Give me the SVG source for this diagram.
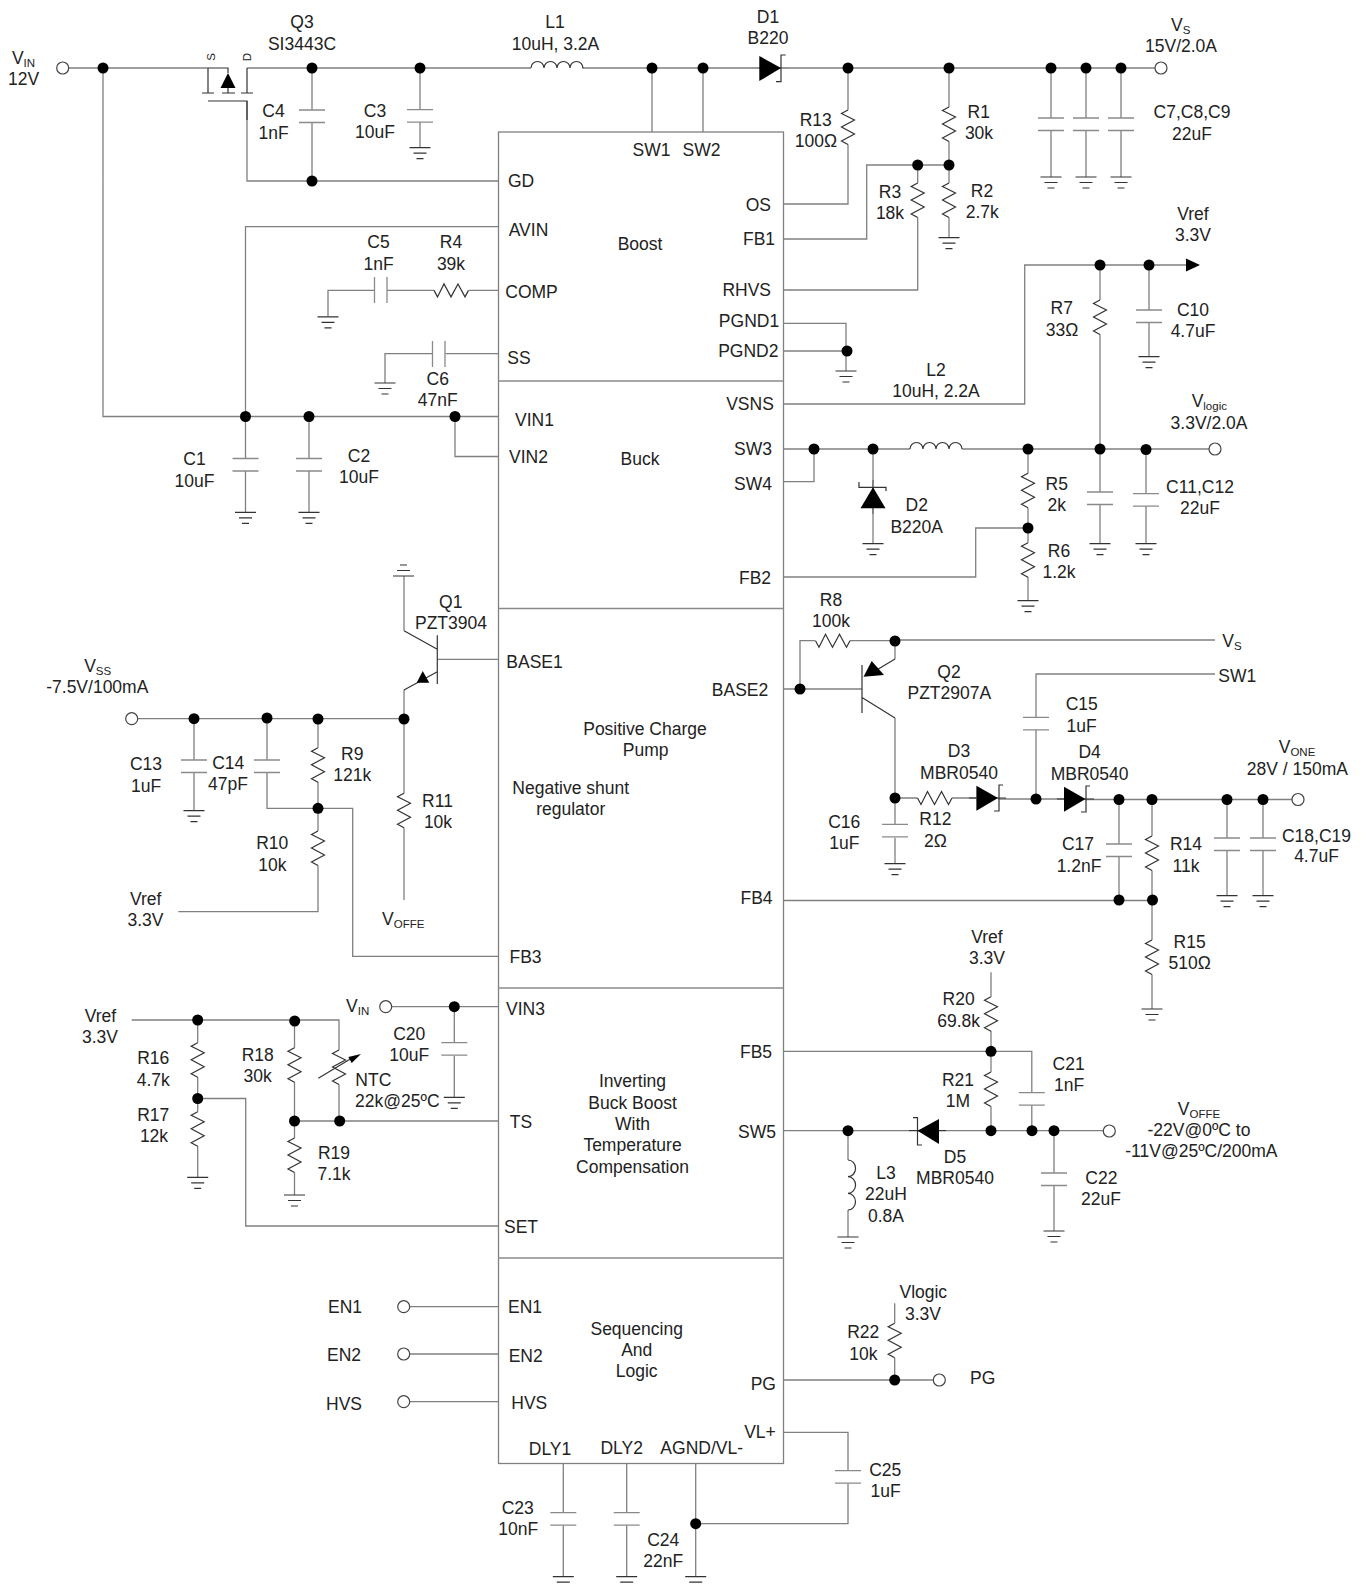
<svg xmlns="http://www.w3.org/2000/svg" width="1366" height="1587" viewBox="0 0 1366 1587">
<style>
text{font-family:"Liberation Sans",Arial,sans-serif;font-size:17.5px;text-anchor:middle;fill:#222}
.s{font-size:11.5px}
.l{text-anchor:start}
.w{fill:none;stroke:#808080;stroke-width:1.3}
.p{fill:none;stroke:#8a8a8a;stroke-width:1.3}
.k{fill:none;stroke:#333;stroke-width:1.2}
.f{fill:#000;stroke:none}
.d{fill:#000}
.o{fill:#fff;stroke:#444;stroke-width:1.2}
.b{fill:#fff;stroke:#808080;stroke-width:1.3}
</style>
<defs>
<path id="rv" class="k" d="M0 0L-6.5 3.5L6.5 10L-6.5 17L6.5 24L-6.5 31L0 34.5"/>
<path id="cv" class="p" d="M-13 0H13M-13 12.5H13"/>
<path id="ch" class="p" d="M0 -13V13M12.5 -13V13"/>
<path id="gnd" class="k" d="M-10.5 0H10.5M-6.5 5.5H6.5M-3.5 11H3.5"/>
<path id="lh" class="k" d="M0 0a6.5 6.5 0 0 1 13 0a6.5 6.5 0 0 1 13 0a6.5 6.5 0 0 1 13 0a6.5 6.5 0 0 1 13 0"/>
</defs>
<rect id="IC" class="b" x="498.5" y="132" width="285" height="1331.5"/>
<g id="ic-dividers"><path class="p" d="M498.5 381H783.5M498.5 608.5H783.5M498.5 988H783.5M498.5 1258H783.5"/></g>
<g id="ic-labels">
<text x="521" y="187">GD</text><text x="528.5" y="236">AVIN</text><text x="531.5" y="297.5">COMP</text><text x="519" y="364">SS</text>
<text x="534.5" y="426">VIN1</text><text x="528.5" y="462.5">VIN2</text>
<text x="651.5" y="156">SW1</text><text x="701.5" y="156">SW2</text>
<text x="640" y="250">Boost</text><text x="640" y="464.5">Buck</text>
<text x="758.3" y="210.7">OS</text><text x="759" y="245">FB1</text><text x="746.7" y="295.7">RHVS</text><text x="749" y="327.3">PGND1</text><text x="748.3" y="357.3">PGND2</text>
<text x="750" y="410">VSNS</text><text x="753" y="454.5">SW3</text><text x="753" y="490">SW4</text><text x="755" y="584">FB2</text>
<text x="534.5" y="667.5">BASE1</text><text x="740" y="696">BASE2</text>
<text x="645" y="735">Positive Charge</text><text x="645.7" y="756">Pump</text>
<text x="570.7" y="793.5">Negative shunt</text><text x="570.7" y="815">regulator</text>
<text x="525.5" y="962.5">FB3</text><text x="756.5" y="904">FB4</text>
<text x="525.5" y="1015">VIN3</text><text x="521" y="1128">TS</text><text x="521" y="1232.5">SET</text><text x="756" y="1057.5">FB5</text><text x="757" y="1137.5">SW5</text>
<text x="632.5" y="1087">Inverting</text><text x="632.5" y="1108.5">Buck Boost</text><text x="632.5" y="1130">With</text><text x="632.5" y="1151">Temperature</text><text x="632.5" y="1173">Compensation</text>
<text x="636.7" y="1334.5">Sequencing</text><text x="636.7" y="1356">And</text><text x="636.7" y="1377">Logic</text>
<text x="525" y="1313">EN1</text><text x="525.7" y="1362.3">EN2</text><text x="529.3" y="1409">HVS</text>
<text x="763.3" y="1390">PG</text><text x="760" y="1437.7">VL+</text><text x="550" y="1454.8">DLY1</text><text x="621.7" y="1453.8">DLY2</text><text x="701.7" y="1453.8">AGND/VL-</text>
</g>
<g id="connectors">
<path class="w" d="M69 68H208M247 68H531M582 68H752M789 68H1155M247 101V181H498.5M312 68V110M312 122.6V181M420 68V109.6M420 122V147.6M103 68V416.5H498.5M498.5 226.6H245.5V458.5M245.5 471V512.4M309 416.5V458.5M309 471V512.4M455 416.5V456.5H498.5M328 316.8V290.4H374.5M387 290.4H434M469 290.4H498.5M385 383V353.6H432.5M445.5 353.6H498.5M652 68V132M703 68V132
M848 68V110M848 144.5V204H783.5M949 68V107M949 141.5V183M949 217.5V237.7M949 165H866.7V239H783.5M917.7 165V183M917.7 217.5V290H783.5M783.5 323.3H846V371M783.5 351H846
M1051 68V118M1051 131V177M1086 68V118M1086 131V177M1121 68V118M1121 131V177
M783.5 404H1024.7V265H1186M1100 265V300M1100 334.5V449M1149 265V310M1149 322.7V356.7
M783.5 449H910M962 449H1209M783.5 481.7H814V449M873 449V480M873 514V543.7M1028 449V473.3M1028 508V542.7M1028 577V600.7M1028 528H975.7V577H783.5M1100 449V492M1100 504.3V543.7M1146 449V493.7M1146 506V543.7
M783.5 689H862M800 689V640.7H815.3M850 640.7H895M895 640H1215M895 640.7V659M895 718V824.3M895 837.7V863.7M895 798H917.5M952 798H976M998 799H1064M1085 799.5H1292M1215 674H1036V717.3M1036 729.7V799
M1119 799.5V844M1119 856.3V900M1152 799.5V836M1152 870.5V940M1152 974.5V1009M783.5 900.5H1152M1227 799.5V838M1227 850.3V895.7M1263 799.5V838M1263 850.3V895.7
M991 972.3V996.7M991 1031V1072M991 1106.5V1130.7M783.5 1051.3H1031.8V1092.7M1031.8 1105.3V1130.7M783.5 1130.7H909M946 1130.7H1103M848 1130.7V1160M848 1210V1237M1054 1130.7V1173M1054 1185.3V1231
M437.3 659.3H498.5M404 576V630.7M404 690V718.7M138 718.7H404M194 718.7V760M194 772.3V810.7M267 718.7V760M267 772.3V808.3H318M318 718.7V747.7M318 782V831M318 865.5V911.7H178.3M318 808.3H352.7V956.3H498.5M404 718.7V793.3M404 827.7V900
M131.7 1020H339V1050M339 1084.5V1121M197.7 1020V1042.7M197.7 1077V1111.7M197.7 1146V1177.3M197.7 1098.5H245.7V1226H498.5M294.5 1020V1047.7M294.5 1082V1138M294.5 1172.5V1195M294.5 1121H498.5M392 1006.7H498.5M454.3 1006.7V1042.7M454.3 1055.7V1097.3
M410 1306.7H498.5M410 1354H498.5M410 1401.7H498.5M563.3 1463.5V1512.7M563.3 1525.3V1576.7M626.7 1463.5V1512.7M626.7 1525.3V1576.7M695.7 1463.5V1576.7M695.7 1523.7H848V1483.3M848 1470.7V1432.3H783.5M783.5 1380H933M894.7 1303.3V1323.3M894.7 1358V1380"/>
<g class="d">
<circle cx="103" cy="68" r="5.5"/><circle cx="312" cy="68" r="5.5"/><circle cx="420" cy="68" r="5.5"/><circle cx="652" cy="68" r="5.5"/><circle cx="703" cy="68" r="5.5"/><circle cx="848" cy="68" r="5.5"/><circle cx="949" cy="68" r="5.5"/><circle cx="1051" cy="68" r="5.5"/><circle cx="1086" cy="68" r="5.5"/><circle cx="1121" cy="68" r="5.5"/>
<circle cx="312" cy="181" r="5.5"/><circle cx="917.7" cy="165" r="5.5"/><circle cx="949" cy="165" r="5.5"/><circle cx="847" cy="351" r="5.5"/>
<circle cx="1100" cy="265" r="5.5"/><circle cx="1149" cy="265" r="5.5"/>
<circle cx="245.5" cy="416.5" r="5.5"/><circle cx="309" cy="416.5" r="5.5"/><circle cx="455" cy="416.5" r="5.5"/>
<circle cx="814" cy="449" r="5.5"/><circle cx="873" cy="449" r="5.5"/><circle cx="1028" cy="449" r="5.5"/><circle cx="1100" cy="449" r="5.5"/><circle cx="1146" cy="449.5" r="5.5"/><circle cx="1028" cy="528" r="5.5"/>
<circle cx="895" cy="641" r="5.5"/><circle cx="800" cy="689" r="5.5"/><circle cx="895" cy="798" r="5.5"/><circle cx="1036" cy="799" r="5.5"/><circle cx="1119" cy="799.5" r="5.5"/><circle cx="1152" cy="799.5" r="5.5"/><circle cx="1227" cy="799.5" r="5.5"/><circle cx="1263" cy="799.5" r="5.5"/><circle cx="1119" cy="900" r="5.5"/><circle cx="1152.5" cy="900" r="5.5"/>
<circle cx="991" cy="1051.3" r="5.5"/><circle cx="848" cy="1130.7" r="5.5"/><circle cx="991" cy="1130.7" r="5.5"/><circle cx="1032" cy="1130.7" r="5.5"/><circle cx="1054" cy="1130.7" r="5.5"/>
<circle cx="194" cy="718.7" r="5.5"/><circle cx="267" cy="718" r="5.5"/><circle cx="318" cy="719" r="5.5"/><circle cx="404" cy="719" r="5.5"/><circle cx="318" cy="808.3" r="5.5"/>
<circle cx="197.7" cy="1020" r="5.5"/><circle cx="294.7" cy="1021" r="5.5"/><circle cx="197.7" cy="1098.5" r="5.5"/><circle cx="294.5" cy="1121" r="5.5"/><circle cx="339.7" cy="1121" r="5.5"/><circle cx="454.3" cy="1006.7" r="5.5"/>
<circle cx="894.7" cy="1380" r="5.5"/><circle cx="695.7" cy="1523.7" r="5.5"/>
</g>
</g>
<g id="VIN"><circle class="o" cx="62.7" cy="68" r="6"/><text x="23.5" y="63.7">V<tspan class="s" dy="3">IN</tspan></text><text x="23.5" y="85">12V</text></g>
<g id="Q3"><path class="k" d="M208 68V93M202 93H214M208 68H228V73M228 88V93M222 93H235M247 68V93M241 93H253M208 101H247V120"/><path class="f" d="M228 73L235.5 88H220.5Z"/><text class="s" transform="translate(215,57) rotate(-90)">S</text><text class="s" transform="translate(251,57) rotate(-90)">D</text><text x="302" y="27.5">Q3</text><text x="302" y="50">SI3443C</text></g>
<g id="C4"><use href="#cv" x="312" y="110"/><text x="273.5" y="117">C4</text><text x="273.5" y="138.6">1nF</text></g>
<g id="C3"><use href="#cv" x="420" y="109.6"/><use href="#gnd" x="420" y="147.6"/><text x="375" y="116.5">C3</text><text x="375" y="138">10uF</text></g>
<g id="L1"><use href="#lh" x="531" y="68"/><text x="555" y="27.5">L1</text><text x="555.5" y="49.5">10uH, 3.2A</text></g>
<g id="D1"><path class="k" d="M752 68H789M776 81.7H781V55H785.7"/><path class="f" d="M759.3 56L781 68L759.3 81Z"/><text x="768" y="23.3">D1</text><text x="768" y="44.3">B220</text></g>
<g id="VS"><circle class="o" cx="1161" cy="68" r="6"/><text x="1180.7" y="30.7">V<tspan class="s" dy="3">S</tspan></text><text x="1181" y="51.7">15V/2.0A</text></g>
<g id="R13"><use href="#rv" x="848" y="110"/><text x="815.7" y="125.7">R13</text><text x="816" y="147.3">100Ω</text></g>
<g id="R1"><use href="#rv" x="949" y="107"/><text x="978.7" y="118.3">R1</text><text x="979" y="139.3">30k</text></g>
<g id="R2"><use href="#rv" x="949" y="183"/><use href="#gnd" x="949" y="237.7"/><text x="982" y="197.3">R2</text><text x="982.3" y="218.3">2.7k</text></g>
<g id="R3"><use href="#rv" x="917.7" y="183"/><text x="890" y="198.3">R3</text><text x="890" y="219.3">18k</text></g>
<g id="C7-C9"><use href="#cv" x="1051" y="118"/><use href="#cv" x="1086" y="118"/><use href="#cv" x="1121" y="118"/><use href="#gnd" x="1051" y="177"/><use href="#gnd" x="1086" y="177"/><use href="#gnd" x="1121" y="177"/><text x="1192" y="118">C7,C8,C9</text><text x="1192" y="140">22uF</text></g>
<g id="PGND-gnd"><use href="#gnd" x="846" y="371"/></g>
<g id="Vref-top"><path class="f" d="M1186 258.5L1200 265L1186 271.5Z"/><text x="1193" y="220">Vref</text><text x="1193" y="240.7">3.3V</text></g>
<g id="R7"><use href="#rv" x="1100" y="300"/><text x="1061.7" y="314.3">R7</text><text x="1062" y="336">33Ω</text></g>
<g id="C10"><use href="#cv" x="1149" y="310"/><use href="#gnd" x="1149" y="356.7"/><text x="1193" y="315.7">C10</text><text x="1193" y="336.7">4.7uF</text></g>
<g id="L2"><use href="#lh" x="910" y="449"/><text x="936" y="376">L2</text><text x="936" y="397">10uH, 2.2A</text></g>
<g id="Vlogic"><circle class="o" cx="1215" cy="449" r="6"/><text x="1209.3" y="407">V<tspan class="s" dy="3">logic</tspan></text><text x="1209" y="429">3.3V/2.0A</text></g>
<g id="D2"><path class="k" d="M873 480V514M859 482V487.3H886V491"/><path class="f" d="M873 487.3L885.5 508.3H860.5Z"/><use href="#gnd" x="873" y="543.7"/><text x="916.7" y="511.2">D2</text><text x="916.7" y="533">B220A</text></g>
<g id="R5"><use href="#rv" x="1028" y="473.3"/><text x="1056.7" y="490">R5</text><text x="1056.7" y="511">2k</text></g>
<g id="R6"><use href="#rv" x="1028" y="542.7"/><use href="#gnd" x="1028" y="600.7"/><text x="1059" y="556.7">R6</text><text x="1059" y="578.3">1.2k</text></g>
<g id="C11-C12"><use href="#cv" x="1100" y="492"/><use href="#cv" x="1146" y="493.7"/><use href="#gnd" x="1100" y="543.7"/><use href="#gnd" x="1146" y="543.7"/><text x="1200" y="493.3">C11,C12</text><text x="1200" y="514.3">22uF</text></g>
<g id="C1"><use href="#cv" x="245.5" y="458.5"/><use href="#gnd" x="245.5" y="512.4"/><text x="194.5" y="465">C1</text><text x="194.5" y="486.5">10uF</text></g>
<g id="C2"><use href="#cv" x="309" y="458.5"/><use href="#gnd" x="309" y="512.4"/><text x="359" y="461.5">C2</text><text x="359" y="483">10uF</text></g>
<g id="C5"><use href="#ch" x="374.5" y="290"/><use href="#gnd" x="328" y="316.8"/><text x="378.5" y="248">C5</text><text x="378.5" y="269.5">1nF</text></g>
<g id="R4"><use href="#rv" transform="translate(434,290.4) rotate(-90)"/><text x="451" y="248">R4</text><text x="451" y="270">39k</text></g>
<g id="C6"><use href="#ch" x="432.5" y="354"/><use href="#gnd" x="385" y="383"/><text x="437.7" y="385">C6</text><text x="437.7" y="406">47nF</text></g>
<g id="R8"><use href="#rv" transform="translate(815.5,640.7) rotate(-90)"/><text x="831" y="606">R8</text><text x="831" y="627.3">100k</text></g>
<g id="VS-right"><text x="1232" y="646.7">V<tspan class="s" dy="3">S</tspan></text></g>
<g id="SW1-right"><text x="1237.3" y="681.5">SW1</text></g>
<g id="Q2"><path class="k" d="M862 665V713M862 697.6L895 718M895 659L870 674"/><path class="f" d="M863.5 676.7L871.7 661L884 675Z"/><text x="949" y="677.7">Q2</text><text x="949.3" y="699.3">PZT2907A</text></g>
<g id="C15"><use href="#cv" x="1036" y="717.3"/><text x="1081.7" y="710">C15</text><text x="1081.7" y="731.5">1uF</text></g>
<g id="D3"><path class="k" d="M969 798H1006M994 811H999V785H1003"/><path class="f" d="M976.4 785.7L998 798L976.4 810.7Z"/><text x="959" y="757.3">D3</text><text x="959" y="779.3">MBR0540</text></g>
<g id="D4"><path class="k" d="M1057 799H1094M1081 812H1086V786H1090"/><path class="f" d="M1064 786.7L1085.5 799L1064 811.7Z"/><text x="1089.6" y="758.3">D4</text><text x="1089.6" y="780">MBR0540</text></g>
<g id="VONE"><circle class="o" cx="1298" cy="799.5" r="6"/><text x="1297" y="753.3">V<tspan class="s" dy="3">ONE</tspan></text><text x="1297.3" y="774.7">28V / 150mA</text></g>
<g id="C16"><use href="#cv" x="895" y="824.3"/><use href="#gnd" x="895" y="863.7"/><text x="844.3" y="828">C16</text><text x="844.3" y="849">1uF</text></g>
<g id="R12"><use href="#rv" transform="translate(917.5,798) rotate(-90)"/><text x="935.4" y="825">R12</text><text x="935.4" y="846.7">2Ω</text></g>
<g id="C17"><use href="#cv" x="1119" y="844"/><text x="1078" y="850.3">C17</text><text x="1079" y="872">1.2nF</text></g>
<g id="R14"><use href="#rv" x="1152" y="836"/><text x="1186" y="850.3">R14</text><text x="1186" y="872">11k</text></g>
<g id="C18-C19"><use href="#cv" x="1227" y="838"/><use href="#cv" x="1263" y="838"/><use href="#gnd" x="1227" y="895.7"/><use href="#gnd" x="1263" y="895.7"/><text x="1316.5" y="841.7">C18,C19</text><text x="1316.5" y="862.3">4.7uF</text></g>
<g id="R15"><use href="#rv" x="1152" y="940"/><use href="#gnd" x="1152" y="1009"/><text x="1189.6" y="948">R15</text><text x="1189.6" y="969.3">510Ω</text></g>
<g id="Vref-R20"><text x="987" y="942.7">Vref</text><text x="987" y="964.3">3.3V</text></g>
<g id="R20"><use href="#rv" x="991" y="996.7"/><text x="958.6" y="1005">R20</text><text x="958.6" y="1026.7">69.8k</text></g>
<g id="R21"><use href="#rv" x="991" y="1072"/><text x="958" y="1085.7">R21</text><text x="958" y="1107">1M</text></g>
<g id="C21"><use href="#cv" x="1031.8" y="1092.7"/><text x="1068.6" y="1070">C21</text><text x="1069" y="1091">1nF</text></g>
<g id="VOFFE-right"><circle class="o" cx="1109.3" cy="1131" r="6"/><text x="1199" y="1114.7">V<tspan class="s" dy="3">OFFE</tspan></text><text x="1199" y="1136">-22V@0ºC to</text><text x="1201.4" y="1157">-11V@25ºC/200mA</text></g>
<g id="D5"><path class="k" d="M909 1130.7H946M913 1117.7H917.5V1145H922"/><path class="f" d="M917.5 1130.7L939 1119V1144Z"/><text x="955" y="1162.7">D5</text><text x="955" y="1184">MBR0540</text></g>
<g id="L3"><path class="k" d="M848 1160a7.5 8.3 0 0 1 0 16.7a7.5 8.3 0 0 1 0 16.7a7.5 8.3 0 0 1 0 16.6"/><use href="#gnd" x="848" y="1237"/><text x="886" y="1178.7">L3</text><text x="886" y="1200">22uH</text><text x="886" y="1221.7">0.8A</text></g>
<g id="C22"><use href="#cv" x="1054" y="1173"/><use href="#gnd" x="1054" y="1231"/><text x="1101.4" y="1184">C22</text><text x="1101" y="1205">22uF</text></g>
<g id="Q1"><use href="#gnd" transform="translate(403.5,576) scale(1,-1)"/><path class="k" d="M404 630.7L437.3 649.3M437.3 635.3V684M437.3 671.7L404 690"/><path class="f" d="M422.7 671L416.7 682.7L429.3 682.7Z"/><text x="450.7" y="607.7">Q1</text><text x="451" y="629">PZT3904</text></g>
<g id="VSS"><circle class="o" cx="131.7" cy="718.7" r="6"/><text x="97.7" y="671.7">V<tspan class="s" dy="3">SS</tspan></text><text x="97.3" y="692.7">-7.5V/100mA</text></g>
<g id="C13"><use href="#cv" x="194" y="760"/><use href="#gnd" x="194" y="810.7"/><text x="146" y="770">C13</text><text x="146" y="791.7">1uF</text></g>
<g id="C14"><use href="#cv" x="267" y="760"/><text x="228.3" y="769">C14</text><text x="228" y="790">47pF</text></g>
<g id="R9"><use href="#rv" x="318" y="747.7"/><text x="352.3" y="760">R9</text><text x="352.3" y="781">121k</text></g>
<g id="R10"><use href="#rv" x="318" y="831"/><text x="272.3" y="849">R10</text><text x="272.3" y="870.7">10k</text></g>
<g id="R11"><use href="#rv" x="404" y="793.3"/><text x="437.5" y="806.7">R11</text><text x="438" y="828.3">10k</text></g>
<g id="Vref-R10"><text x="145.7" y="905">Vref</text><text x="145.5" y="926">3.3V</text></g>
<g id="VOFFE-left"><text x="403.3" y="925">V<tspan class="s" dy="3">OFFE</tspan></text></g>
<g id="Vref-R16"><text x="100.5" y="1021.5">Vref</text><text x="100" y="1043">3.3V</text></g>
<g id="R16"><use href="#rv" x="197.7" y="1042.7"/><text x="153.3" y="1064">R16</text><text x="153.3" y="1085.5">4.7k</text></g>
<g id="R17"><use href="#rv" x="197.7" y="1111.7"/><use href="#gnd" x="197.7" y="1177.3"/><text x="153.3" y="1121">R17</text><text x="154" y="1142.3">12k</text></g>
<g id="R18"><use href="#rv" x="294.5" y="1047.7"/><text x="257.7" y="1060.7">R18</text><text x="257.7" y="1081.7">30k</text></g>
<g id="R19"><use href="#rv" x="294.5" y="1138"/><use href="#gnd" x="294.5" y="1195"/><text x="334" y="1158.8">R19</text><text x="334" y="1180">7.1k</text></g>
<g id="NTC"><use href="#rv" x="339" y="1050"/><path class="k" d="M318.3 1078.3L352 1058"/><path class="f" d="M348.3 1057L361 1054L351.7 1063Z"/><text x="373.3" y="1085.7">NTC</text><text x="397.3" y="1107">22k@25ºC</text></g>
<g id="VIN-lower"><circle class="o" cx="385.7" cy="1006.7" r="6"/><text x="357.7" y="1011.7">V<tspan class="s" dy="3">IN</tspan></text></g>
<g id="C20"><use href="#cv" x="454.3" y="1042.7"/><use href="#gnd" x="454.3" y="1097.3"/><text x="409.3" y="1040">C20</text><text x="409.3" y="1061">10uF</text></g>
<g id="EN1"><circle class="o" cx="403.7" cy="1306.7" r="6"/><text x="345" y="1312.5">EN1</text></g>
<g id="EN2"><circle class="o" cx="403.7" cy="1354" r="6"/><text x="344" y="1361">EN2</text></g>
<g id="HVS"><circle class="o" cx="403.7" cy="1401.7" r="6"/><text x="344" y="1409.5">HVS</text></g>
<g id="C23"><use href="#cv" x="563.3" y="1512.7"/><use href="#gnd" x="563.3" y="1576.7"/><text x="517.7" y="1514">C23</text><text x="518.3" y="1535">10nF</text></g>
<g id="C24"><use href="#cv" x="626.7" y="1512.7"/><use href="#gnd" x="626.7" y="1576.7"/><text x="663.3" y="1545.7">C24</text><text x="663.3" y="1566.7">22nF</text></g>
<g id="AGND-gnd"><use href="#gnd" x="695.7" y="1576.7"/></g>
<g id="C25"><use href="#cv" x="848" y="1470.7"/><text x="885.3" y="1476">C25</text><text x="885.7" y="1496.7">1uF</text></g>
<g id="R22"><use href="#rv" x="894.7" y="1323.3"/><text x="863.3" y="1337.7">R22</text><text x="863.3" y="1359.8">10k</text></g>
<g id="Vlogic-R22"><text x="923.3" y="1298.3">Vlogic</text><text x="923" y="1320">3.3V</text></g>
<g id="PG"><circle class="o" cx="939.3" cy="1380" r="6"/><text x="982.7" y="1384">PG</text></g>
</svg>
